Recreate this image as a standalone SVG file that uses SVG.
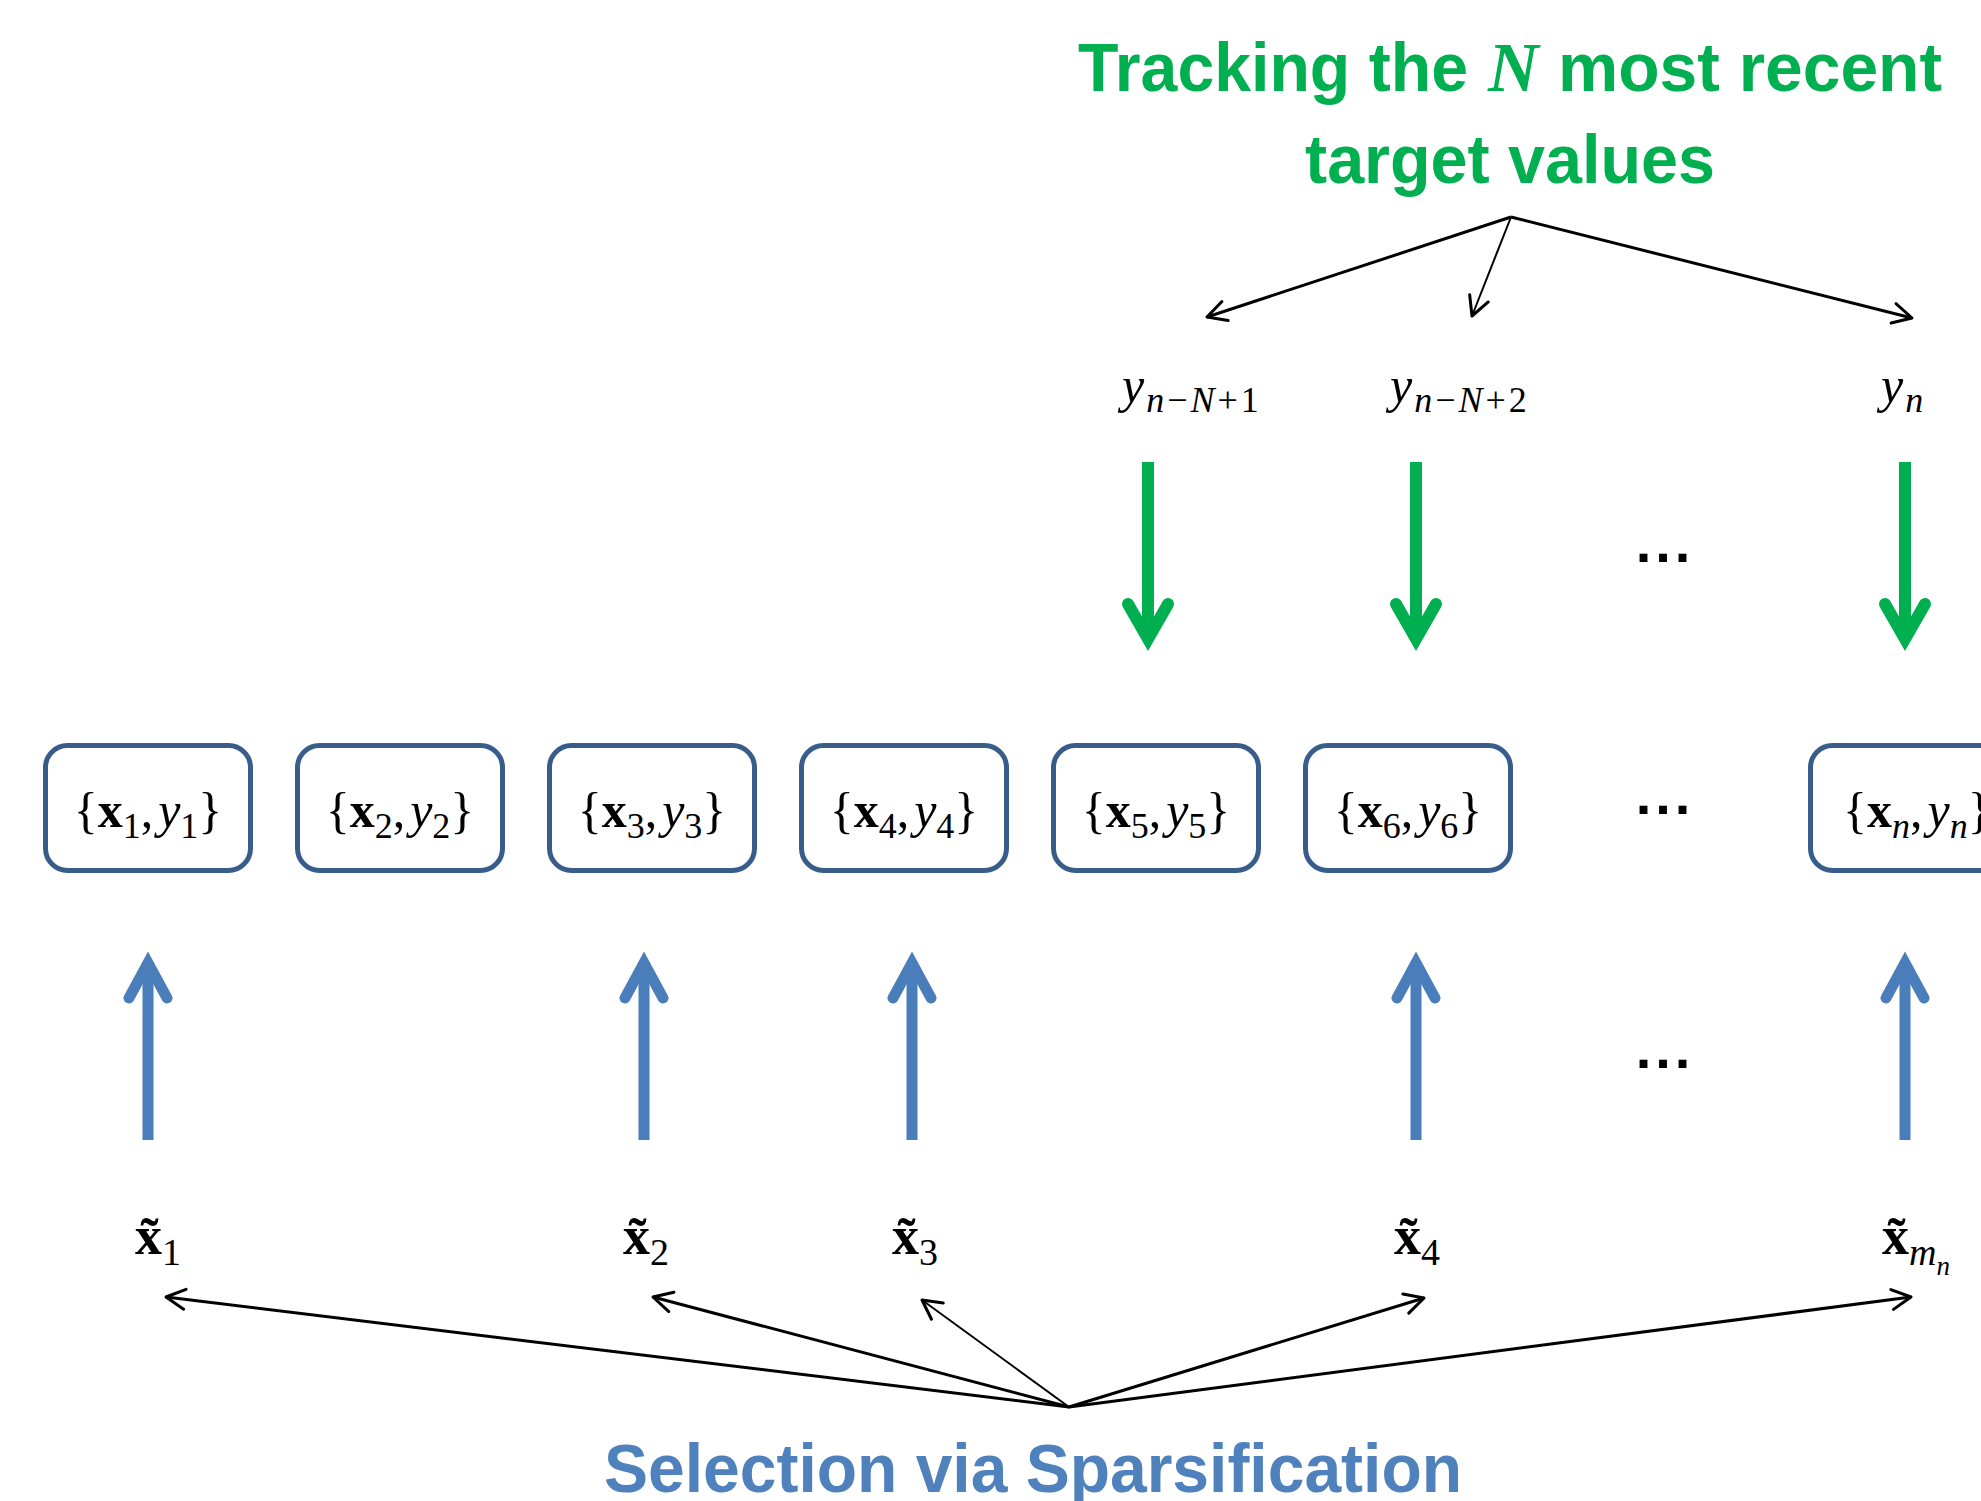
<svg xmlns="http://www.w3.org/2000/svg" width="1981" height="1501" viewBox="0 0 1981 1501">
<style>
.box{fill:#fff;stroke:#385D8A;stroke-width:5}
.m{font-family:"Liberation Serif","DejaVu Serif",serif;font-size:50px;fill:#000}
.b{font-weight:bold}
.i{font-style:italic}
.s{font-size:36px}
.ss{font-size:27px}
.xl{font-size:54px}
.xs{font-size:38px}
.title{font-family:"Liberation Sans",Arial,sans-serif;font-weight:bold;font-size:68px}
.green{fill:#00B050}
.bluet{fill:#4F81BD}
.dots{font-family:"Liberation Sans",Arial,sans-serif;font-weight:bold;font-size:56px;letter-spacing:4px;fill:#000}
.thin{stroke:#000;fill:none;marker-end:url(#ah)}
.ga{stroke:#00B050;stroke-width:12;fill:none;stroke-linecap:round;stroke-linejoin:miter}
.ba{stroke:#4A7EBB;stroke-width:11;fill:none;stroke-linecap:round;stroke-linejoin:miter}
</style>
<defs>
<marker id="ah" viewBox="-24 -14 28 28" refX="0" refY="0" markerWidth="28" markerHeight="28" markerUnits="userSpaceOnUse" orient="auto">
<path d="M-19,-10 L0,0 L-19,10" fill="none" stroke="#000" stroke-width="3" stroke-linecap="round" stroke-linejoin="round"/>
</marker>
</defs>
<rect width="1981" height="1501" fill="#fff"/>

<g id="title-top">
<text class="title green" x="1078" y="91" textLength="390" lengthAdjust="spacingAndGlyphs">Tracking the</text>
<text class="m b i green" x="1488" y="91" style="font-size:70px">N</text>
<text class="title green" x="1558" y="91" textLength="384" lengthAdjust="spacingAndGlyphs">most recent</text>
<text class="title green" x="1305" y="183" textLength="410" lengthAdjust="spacingAndGlyphs">target values</text>
</g>

<g id="title-bottom">
<text class="title bluet" x="604" y="1492" textLength="858" lengthAdjust="spacingAndGlyphs">Selection via Sparsification</text>
</g>

<g id="connectors">
<line class="thin" x1="1511" y1="217" x2="1207" y2="317" stroke-width="3"/>
<line class="thin" x1="1511" y1="217" x2="1472" y2="316" stroke-width="2"/>
<line class="thin" x1="1511" y1="217" x2="1912" y2="318" stroke-width="3"/>
<line class="thin" x1="1069" y1="1407" x2="166" y2="1297" stroke-width="3"/>
<line class="thin" x1="1069" y1="1407" x2="653" y2="1297" stroke-width="3"/>
<line class="thin" x1="1069" y1="1407" x2="922" y2="1300" stroke-width="2"/>
<line class="thin" x1="1069" y1="1407" x2="1424" y2="1298" stroke-width="3"/>
<line class="thin" x1="1069" y1="1407" x2="1911" y2="1297" stroke-width="3"/>
<g id="green-arrows">
<line class="ga" x1="1148" y1="462" x2="1148" y2="640" style="stroke-linecap:butt"/>
<polyline class="ga" points="1128,604 1148,639 1168,604"/>
<line class="ga" x1="1416" y1="462" x2="1416" y2="640" style="stroke-linecap:butt"/>
<polyline class="ga" points="1396,604 1416,639 1436,604"/>
<line class="ga" x1="1905" y1="462" x2="1905" y2="640" style="stroke-linecap:butt"/>
<polyline class="ga" points="1885,604 1905,639 1925,604"/>
</g>
<g id="blue-arrows">
<line class="ba" x1="148" y1="1140" x2="148" y2="962" style="stroke-linecap:butt"/>
<polyline class="ba" points="129,998 148,963 167,998"/>
<line class="ba" x1="644" y1="1140" x2="644" y2="962" style="stroke-linecap:butt"/>
<polyline class="ba" points="625,998 644,963 663,998"/>
<line class="ba" x1="912" y1="1140" x2="912" y2="962" style="stroke-linecap:butt"/>
<polyline class="ba" points="893,998 912,963 931,998"/>
<line class="ba" x1="1416" y1="1140" x2="1416" y2="962" style="stroke-linecap:butt"/>
<polyline class="ba" points="1397,998 1416,963 1435,998"/>
<line class="ba" x1="1905" y1="1140" x2="1905" y2="962" style="stroke-linecap:butt"/>
<polyline class="ba" points="1886,998 1905,963 1924,998"/>
</g>
</g>

<g id="label-y1">
<text class="m" x="1122" y="402"><tspan class="i">y</tspan><tspan class="s i" dx="2" dy="10">n</tspan><tspan class="s" dx="3">−</tspan><tspan class="s i" dx="3">N</tspan><tspan class="s" dx="3">+</tspan><tspan class="s" dx="3">1</tspan></text>
</g>
<g id="label-y2">
<text class="m" x="1390" y="402"><tspan class="i">y</tspan><tspan class="s i" dx="2" dy="10">n</tspan><tspan class="s" dx="3">−</tspan><tspan class="s i" dx="3">N</tspan><tspan class="s" dx="3">+</tspan><tspan class="s" dx="3">2</tspan></text>
</g>
<g id="label-yn">
<text class="m" x="1881" y="402"><tspan class="i">y</tspan><tspan class="s i" dx="2" dy="10">n</tspan></text>
</g>

<g id="dots">
<text class="dots" x="1665" y="562" text-anchor="middle">...</text>
<text class="dots" x="1665" y="814" text-anchor="middle">...</text>
<text class="dots" x="1665" y="1068" text-anchor="middle">...</text>
</g>

<g id="node-1"><rect class="box" x="45.5" y="745.5" width="205" height="125" rx="22"/>
<text class="m" x="148" y="827" text-anchor="middle">{<tspan class="b">x</tspan><tspan class="s" dy="11">1</tspan><tspan dy="-11">,</tspan><tspan class="i" dx="5">y</tspan><tspan class="s" dy="11">1</tspan><tspan dy="-11">}</tspan></text></g>
<g id="node-2"><rect class="box" x="297.5" y="745.5" width="205" height="125" rx="22"/>
<text class="m" x="400" y="827" text-anchor="middle">{<tspan class="b">x</tspan><tspan class="s" dy="11">2</tspan><tspan dy="-11">,</tspan><tspan class="i" dx="5">y</tspan><tspan class="s" dy="11">2</tspan><tspan dy="-11">}</tspan></text></g>
<g id="node-3"><rect class="box" x="549.5" y="745.5" width="205" height="125" rx="22"/>
<text class="m" x="652" y="827" text-anchor="middle">{<tspan class="b">x</tspan><tspan class="s" dy="11">3</tspan><tspan dy="-11">,</tspan><tspan class="i" dx="5">y</tspan><tspan class="s" dy="11">3</tspan><tspan dy="-11">}</tspan></text></g>
<g id="node-4"><rect class="box" x="801.5" y="745.5" width="205" height="125" rx="22"/>
<text class="m" x="904" y="827" text-anchor="middle">{<tspan class="b">x</tspan><tspan class="s" dy="11">4</tspan><tspan dy="-11">,</tspan><tspan class="i" dx="5">y</tspan><tspan class="s" dy="11">4</tspan><tspan dy="-11">}</tspan></text></g>
<g id="node-5"><rect class="box" x="1053.5" y="745.5" width="205" height="125" rx="22"/>
<text class="m" x="1156" y="827" text-anchor="middle">{<tspan class="b">x</tspan><tspan class="s" dy="11">5</tspan><tspan dy="-11">,</tspan><tspan class="i" dx="5">y</tspan><tspan class="s" dy="11">5</tspan><tspan dy="-11">}</tspan></text></g>
<g id="node-6"><rect class="box" x="1305.5" y="745.5" width="205" height="125" rx="22"/>
<text class="m" x="1408" y="827" text-anchor="middle">{<tspan class="b">x</tspan><tspan class="s" dy="11">6</tspan><tspan dy="-11">,</tspan><tspan class="i" dx="5">y</tspan><tspan class="s" dy="11">6</tspan><tspan dy="-11">}</tspan></text></g>
<g id="node-n"><rect class="box" x="1810.5" y="745.5" width="205" height="125" rx="22"/>
<text class="m" x="1843" y="827">{<tspan class="b">x</tspan><tspan class="s i" dy="11">n</tspan><tspan dy="-11">,</tspan><tspan class="i" dx="5">y</tspan><tspan class="s i" dy="11">n</tspan><tspan dy="-11">}</tspan></text></g>

<g id="label-xt1"><text class="m xl" x="135" y="1254"><tspan class="b">x&#x303;</tspan><tspan class="xs" dy="11">1</tspan></text></g>
<g id="label-xt2"><text class="m xl" x="623" y="1254"><tspan class="b">x&#x303;</tspan><tspan class="xs" dy="11">2</tspan></text></g>
<g id="label-xt3"><text class="m xl" x="892" y="1254"><tspan class="b">x&#x303;</tspan><tspan class="xs" dy="11">3</tspan></text></g>
<g id="label-xt4"><text class="m xl" x="1394" y="1254"><tspan class="b">x&#x303;</tspan><tspan class="xs" dy="11">4</tspan></text></g>
<g id="label-xtm"><text class="m xl" x="1882" y="1254"><tspan class="b">x&#x303;</tspan><tspan class="xs i" dy="11">m</tspan><tspan class="ss i" dy="10">n</tspan></text></g>
</svg>
